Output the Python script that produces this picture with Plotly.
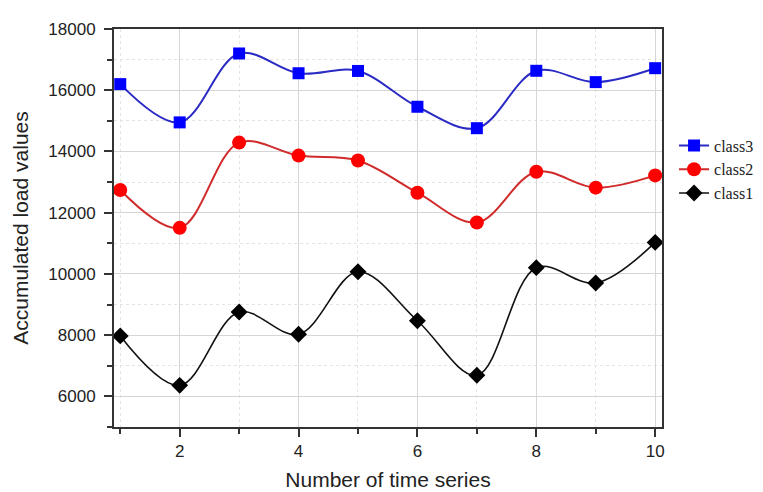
import plotly.graph_objects as go

x_vals = [1, 2, 3, 4, 5, 6, 7, 8, 9, 10]
class3 = [16200, 14950, 17200, 16555, 16630, 15460, 14760, 16635, 16265, 16720]
class2 = [12740, 11505, 14290, 13865, 13705, 12652, 11680, 13337, 12818, 13218]
class1 = [7975, 6360, 8755, 8028, 10070, 8470, 6690, 10205, 9703, 11030]

x_ticks = [2, 4, 6, 8, 10]
y_ticks = [6000, 8000, 10000, 12000, 14000, 16000, 18000]
y_tick_text = [str(v) for v in y_ticks]

fig = go.Figure()
fig.add_trace(go.Scatter(x=x_vals, y=class3, name="class3", mode="lines+markers",
                         line=dict(color="#2a2ac4", width=2, shape="spline", smoothing=1.0),
                         marker=dict(symbol="square", size=12, color="#0000ff")))
fig.add_trace(go.Scatter(x=x_vals, y=class2, name="class2", mode="lines+markers",
                         line=dict(color="#d02a2a", width=2, shape="spline", smoothing=1.0),
                         marker=dict(symbol="circle", size=14, color="#ff0000")))
fig.add_trace(go.Scatter(x=x_vals, y=class1, name="class1", mode="lines+markers",
                         line=dict(color="#111111", width=1.6, shape="spline", smoothing=1.0),
                         marker=dict(symbol="diamond", size=13, color="#000000")))

axis_common = dict(
    showline=True, linecolor="#333333", linewidth=2, mirror=True,
    ticks="outside", ticklen=8, tickwidth=1.5, tickcolor="#333333",
    showgrid=True, gridcolor="#d6d6d6", gridwidth=1,
    zeroline=False,
    tickfont=dict(family="Liberation Sans, Arial", size=17, color="#222222"),
)

fig.update_xaxes(
    range=[0.895, 10.115], tickvals=x_ticks,
    minor=dict(dtick=1, tick0=1, ticks="outside", ticklen=5, tickcolor="#333333",
               showgrid=True, gridcolor="#e4e4e4", griddash="dot"),
    title=dict(text="Number of time series", font=dict(family="Liberation Sans, Arial", size=21, color="#222222"), standoff=12),
    **axis_common)
fig.update_yaxes(
    range=[5000, 18000], tickvals=y_ticks, ticktext=y_tick_text,
    ticklabelstandoff=5,
    minor=dict(dtick=1000, tick0=5000, ticks="outside", ticklen=5, tickcolor="#333333",
               showgrid=True, gridcolor="#e4e4e4", griddash="dot"),
    title=dict(text="Accumulated load values", font=dict(family="Liberation Sans, Arial", size=21, color="#222222"), standoff=14),
    **axis_common)

fig.update_layout(
    width=763, height=492,
    margin=dict(l=105, r=103, t=17, b=64),
    plot_bgcolor="white", paper_bgcolor="white",
    showlegend=True,
    legend=dict(x=1.022, y=0.75, xanchor="left", yanchor="top",
                font=dict(family="Liberation Serif, Times New Roman", size=16, color="#222222"),
                tracegroupgap=0, itemwidth=30, bgcolor="rgba(0,0,0,0)"),
)

fig.write_html("out.html")
